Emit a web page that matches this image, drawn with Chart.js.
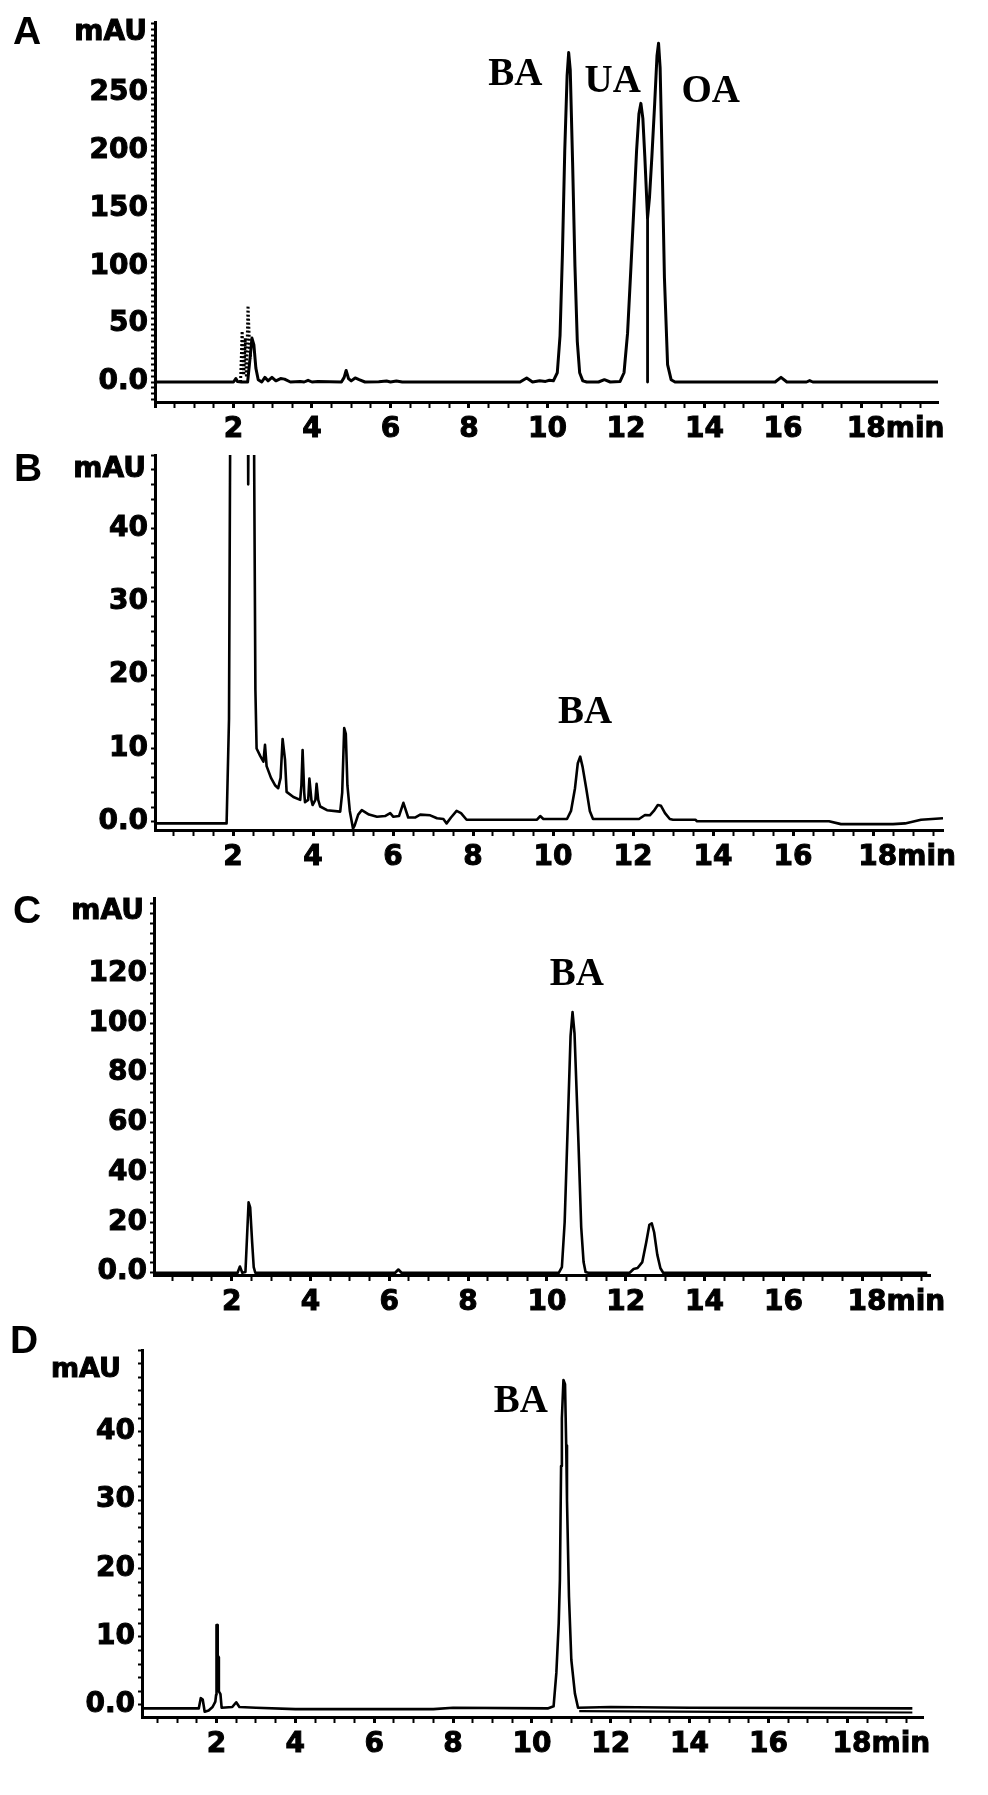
<!DOCTYPE html>
<html>
<head>
<meta charset="utf-8">
<script src="https://cdn.jsdelivr.net/npm/chart.js@4.4.1/dist/chart.umd.min.js"></script>
<style>
html,body{margin:0;padding:0;background:#fff;}
#wrap{position:relative;width:988px;height:1795px;overflow:hidden;background:#fff;}
canvas{position:absolute;left:0;}
</style>
</head>
<body>
<div id="wrap">
<canvas id="cA" width="988" height="445" style="top:0px"></canvas>
<canvas id="cB" width="988" height="440" style="top:445px"></canvas>
<canvas id="cC" width="988" height="435" style="top:885px"></canvas>
<canvas id="cD" width="988" height="475" style="top:1320px"></canvas>
</div>
<script>
// ---------- Panel A : standard mixture (BA, UA, OA) ----------
const aTime = [0, 2.0, 2.06, 2.1, 2.2, 2.36, 2.42, 2.47, 2.52, 2.57,
  2.63, 2.72, 2.8, 2.88, 2.98, 3.08, 3.2, 3.3, 3.45, 3.7,
  3.8, 3.9, 4.0, 4.15, 4.75, 4.82, 4.87, 4.93, 5.0, 5.1,
  5.2, 5.35, 5.7, 5.9, 6.0, 6.15, 6.3, 9.3, 9.47, 9.62,
  9.8, 9.95, 10.05, 10.15, 10.25, 10.32, 10.38, 10.44, 10.5, 10.54,
  10.58, 10.64, 10.7, 10.76, 10.82, 10.9, 11.0, 11.3, 11.45, 11.6,
  11.85, 11.95, 12.04, 12.12, 12.2, 12.27, 12.33, 12.38, 12.43, 12.48,
  12.55, 12.6, 12.66, 12.73, 12.79, 12.83, 12.87, 12.91, 12.98, 13.06,
  13.15, 13.25, 15.8, 15.95, 16.1, 16.6, 16.68, 16.76, 19.95];
const aValue = [0, 0, 3, 0.5, 0, 0, 20, 38, 32, 12,
  2, 0, 4, 1, 4, 1, 3, 2.5, 0, 0.5,
  0, 1.5, 0, 0.5, 0, 4, 10, 3, 1, 3.5,
  2, 0, 0.3, 0.8, 0, 0.8, 0, 0, 3.5, 0,
  1, 0.5, 1.5, 1, 8, 40, 110, 200, 265, 285,
  270, 190, 100, 35, 8, 1, 0, 0, 2, 0,
  0.5, 8, 42, 95, 150, 200, 232, 241, 228, 195,
  142, 160, 195, 240, 282, 293, 272, 210, 90, 15,
  2, 0, 0, 4, 0, 0, 1.2, 0, 0];
// dotted spikes near 2.2 min
const aDotTime = [2.18, 2.22, 2.26, 2.3, 2.33, 2.37, 2.41, 2.44];
const aDotValue = [0, 44, 6, 38, 4, 66, 30, 20];
// drop line separating UA and OA
const aDropTime = [12.55, 12.55];
const aDropValue = [142, 0];
const aPeakNames = ['BA', 'UA', 'OA'];
const aPeakX = [9.18, 11.66, 14.16];
const aPeakY = [265.6, 259.5, 250.9];

// ---------- Panel B ----------
const bTime = [0, 1.84, 1.9, 1.95, 2.1, 2.3, 2.36, 2.38, 2.41, 2.5,
  2.53, 2.56, 2.59, 2.68, 2.76, 2.8, 2.84, 2.95, 3.05, 3.13,
  3.19, 3.24, 3.3, 3.34, 3.51, 3.68, 3.71, 3.74, 3.78, 3.8,
  3.88, 3.91, 3.96, 3.99, 4.06, 4.09, 4.13, 4.18, 4.35, 4.68,
  4.73, 4.78, 4.82, 4.86, 4.92, 5.0, 5.04, 5.13, 5.22, 5.4,
  5.6, 5.8, 5.93, 6.01, 6.15, 6.26, 6.38, 6.55, 6.68, 6.93,
  7.1, 7.26, 7.34, 7.45, 7.59, 7.7, 7.84, 9.6, 9.68, 9.76,
  10.35, 10.45, 10.55, 10.62, 10.68, 10.74, 10.83, 10.92, 11.0, 12.15,
  12.3, 12.42, 12.52, 12.62, 12.7, 12.8, 12.92, 13.0, 13.56, 13.6,
  16.9, 17.2, 18.5, 18.8, 19.2, 19.75];
const bValue = [-0.2, -0.2, 14, 80, 120, 100, 80, 46, 80, 90,
  48, 18, 10, 9, 8.2, 10.5, 7.6, 6, 5, 4.6,
  6, 11.3, 8.5, 4.1, 3.4, 3, 5, 9.8, 4, 2.7,
  3, 5.9, 3, 2.3, 3, 5.2, 3, 2.1, 1.6, 1.4,
  4, 12.8, 12, 5, 1.5, -0.9, -0.5, 1, 1.6, 1,
  0.7, 0.8, 1.2, 0.7, 0.8, 2.6, 0.6, 0.6, 1.0, 0.9,
  0.5, 0.4, -0.2, 0.6, 1.5, 1.2, 0.3, 0.3, 0.8, 0.4,
  0.4, 1.5, 4.6, 8, 8.9, 7.5, 4.6, 1.5, 0.4, 0.4,
  0.95, 0.9, 1.5, 2.3, 2.2, 1.2, 0.4, 0.3, 0.3, 0.1,
  0.1, -0.3, -0.3, -0.2, 0.3, 0.5];
const bPeakNames = ['BA'];
const bPeakX = [10.8];
const bPeakY = [14.8];

// ---------- Panel C ----------
const cTime = [0, 2.15, 2.21, 2.27, 2.35, 2.39, 2.43, 2.47, 2.52, 2.56,
  2.6, 6.15, 6.23, 6.31, 10.3, 10.38, 10.45, 10.52, 10.6, 10.65,
  10.7, 10.8, 10.87, 10.93, 10.98, 11.05, 12.1, 12.2, 12.3, 12.42,
  12.52, 12.6, 12.66, 12.72, 12.8, 12.88, 12.95, 19.65];
const cValue = [-0.3, -0.3, 2.2, -0.3, 0, 14, 28, 26, 12, 2,
  -0.3, -0.3, 1, -0.3, -0.3, 2, 20, 55, 95, 104.5,
  96, 52, 18, 4, 0, -0.3, -0.3, 1.2, 1.6, 4,
  12, 19, 19.6, 16, 7, 1.5, -0.3, -0.3];
const cPeakNames = ['BA'];
const cPeakX = [10.76];
const cPeakY = [119.4];

// ---------- Panel D ----------
const dTime = [0.11, 1.55, 1.6, 1.65, 1.7, 1.8, 1.9, 1.97, 1.99, 2.0,
  2.02, 2.03, 2.05, 2.06, 2.1, 2.13, 2.4, 2.5, 2.58, 3.0,
  4.0, 7.5, 8.0, 10.4, 10.55, 10.62, 10.68, 10.71, 10.74, 10.76,
  10.8, 10.84, 10.87, 10.89, 10.94, 11.0, 11.09, 11.17, 12.0, 14.0,
  19.65];
const dValue = [-0.5, -0.5, 1.0, 0.8, -1, -0.8, -0.3, 0.5, 1.5, 11.7,
  11.7, 7.3, 7, 2, 1.6, -0.4, -0.3, 0.4, -0.3, -0.4,
  -0.6, -0.6, -0.4, -0.5, -0.2, 4.7, 12, 18.3, 35, 42,
  47.6, 47, 38, 30, 15.9, 6.6, 1.7, -0.4, -0.3, -0.4,
  -0.5];
const d2Time = [11.2, 15.0, 19.65];
const d2Value = [-0.9, -1.0, -1.1];
const dPeakNames = ['BA'];
const dPeakX = [9.72];
const dPeakY = [44.4];

function pts(t, v) { return t.map((x, i) => ({x: x, y: v[i]})); }

const textPlugin = {
  id: 'panelText',
  afterDraw(chart, args, o) {
    const ctx = chart.ctx;
    const xs = chart.scales.x, ys = chart.scales.y;
    ctx.save();
    ctx.fillStyle = '#000';
    ctx.strokeStyle = '#000';
    ctx.textBaseline = 'middle';
    ctx.textAlign = 'center';
    ctx.font = 'bold 39px "Liberation Sans", Arial, sans-serif';
    ctx.fillText(o.letter, o.letterX, o.letterY);
    ctx.textAlign = 'right';
    ctx.font = 'bold ' + o.mauSize + 'px "DejaVu Sans", sans-serif';
    ctx.lineWidth = 1;
    ctx.strokeText('mAU', o.mauRight, o.mauY);
    ctx.fillText('mAU', o.mauRight, o.mauY);
    ctx.textAlign = 'center';
    ctx.font = 'bold 39px "Liberation Serif", "Times New Roman", serif';
    o.names.forEach((n, i) => {
      ctx.fillText(n, xs.getPixelForValue(o.px[i]), ys.getPixelForValue(o.py[i]));
    });
    ctx.restore();
  }
};

function makePanel(cfg) {
  const H = cfg.canvasHeight;
  const tickFont = {family: '"DejaVu Sans", sans-serif', weight: 'bold', size: cfg.tickSize || 28};
  const datasets = cfg.series.map(s => ({
    data: pts(s.t, s.v),
    borderColor: '#000',
    borderWidth: s.w,
    borderDash: s.dash || [],
    borderJoinStyle: 'round',
    borderCapStyle: 'butt',
    pointRadius: 0,
    fill: false,
    tension: 0
  }));
  return new Chart(document.getElementById(cfg.id), {
    type: 'line',
    data: {datasets: datasets},
    options: {
      responsive: false,
      animation: false,
      devicePixelRatio: 1,
      layout: {padding: {top: cfg.area.top - cfg.canvasTop, right: 988 - cfg.area.right, left: 0, bottom: 0}},
      plugins: {
        legend: {display: false},
        tooltip: {enabled: false},
        panelText: {
          letter: cfg.letter, letterX: cfg.letterX, letterY: cfg.letterY,
          mauRight: cfg.mauRight, mauY: cfg.mauY, mauSize: cfg.mauSize,
          names: cfg.peakNames, px: cfg.peakX, py: cfg.peakY
        }
      },
      scales: {
        x: {
          type: 'linear',
          min: cfg.xMin, max: cfg.xMax,
          afterFit(s) { s.height = cfg.canvasTop + H - cfg.area.bottom; s.paddingLeft = 0; s.paddingRight = 0; },
          border: {display: true, color: '#000', width: 3},
          grid: {
            display: true, drawOnChartArea: false, drawTicks: true,
            tickLength: 6, tickColor: '#000',
            tickWidth: c => (c.tick && c.tick.value % 2 === 0) ? 3 : 2
          },
          ticks: {
            stepSize: 0.5, includeBounds: false, autoSkip: false,
            maxRotation: 0, minRotation: 0, padding: 5,
            color: '#000', font: tickFont, textStrokeColor: '#000', textStrokeWidth: 1,
            callback: v => {
              if (v === 18) return '       18min';
              if (v > 0 && v < 18 && v % 2 === 0) return String(v);
              return '';
            }
          }
        },
        y: {
          type: 'linear',
          min: cfg.yMin, max: cfg.yMax,
          afterFit(s) { s.width = cfg.area.left; s.paddingTop = 0; s.paddingBottom = 0; },
          border: {display: true, color: '#000', width: 3},
          grid: {
            display: true, drawOnChartArea: false, drawTicks: true,
            tickLength: 4, tickColor: '#000', tickWidth: 2
          },
          ticks: {
            stepSize: cfg.yStep, includeBounds: false, autoSkip: false,
            padding: 3, color: '#000', font: tickFont, textStrokeColor: '#000', textStrokeWidth: 1,
            callback: v => {
              if (v === 0) return '0.0';
              if (v > 0 && v <= cfg.yLabelMax && v % cfg.yMajor === 0) return String(v);
              return '';
            }
          }
        }
      }
    },
    plugins: [textPlugin]
  });
}

makePanel({
  id: 'cA', canvasTop: 0, canvasHeight: 445,
  area: {left: 155, top: 22, right: 938, bottom: 402},
  xMin: 0, xMax: 19.95, yMin: -17.3, yMax: 311.4, yStep: 5, yMajor: 50, yLabelMax: 250,
  series: [
    {t: aTime, v: aValue, w: 3},
    {t: aDotTime, v: aDotValue, w: 3, dash: [2, 2]},
    {t: aDropTime, v: aDropValue, w: 2.8}
  ],
  letter: 'A', letterX: 27, letterY: 33, mauRight: 147, mauY: 33, mauSize: 28,
  peakNames: aPeakNames, peakX: aPeakX, peakY: aPeakY
});
makePanel({
  id: 'cB', canvasTop: 445, canvasHeight: 440,
  area: {left: 155, top: 455, right: 943, bottom: 830},
  xMin: 0.05, xMax: 19.75, yMin: -1.1, yMax: 50, yStep: 2, yMajor: 10, yLabelMax: 40,
  series: [{t: bTime, v: bValue, w: 2.6}],
  letter: 'B', letterX: 28, letterY: 25, mauRight: 146, mauY: 25, mauSize: 28,
  peakNames: bPeakNames, peakX: bPeakX, peakY: bPeakY
});
makePanel({
  id: 'cC', canvasTop: 885, canvasHeight: 435,
  area: {left: 154, top: 898, right: 930, bottom: 1275},
  xMin: 0.03, xMax: 19.72, yMin: -1.2, yMax: 150.4, yStep: 4, yMajor: 20, yLabelMax: 120,
  series: [{t: cTime, v: cValue, w: 2.6}],
  letter: 'C', letterX: 27, letterY: 27, mauRight: 144, mauY: 27, mauSize: 28,
  peakNames: cPeakNames, peakX: cPeakX, peakY: cPeakY
});
makePanel({
  id: 'cD', canvasTop: 1320, canvasHeight: 475,
  area: {left: 142, top: 1350, right: 923, bottom: 1717},
  xMin: 0.11, xMax: 19.92, yMin: -1.76, yMax: 52, yStep: 2, yMajor: 10, yLabelMax: 40,
  series: [{t: dTime, v: dValue, w: 2.6}, {t: d2Time, v: d2Value, w: 2.2}],
  letter: 'D', letterX: 24, letterY: 22, mauRight: 121, mauY: 50, mauSize: 27,
  peakNames: dPeakNames, peakX: dPeakX, peakY: dPeakY
});
</script>
</body>
</html>
